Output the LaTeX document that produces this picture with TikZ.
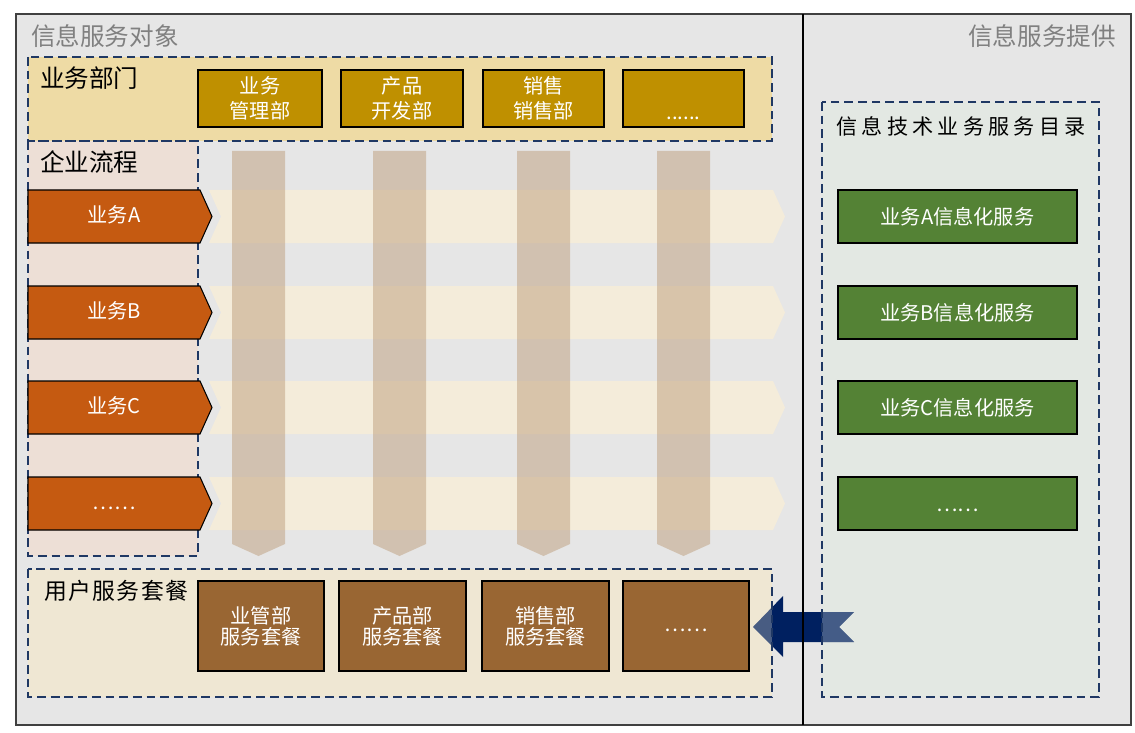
\documentclass[tikz,border=0pt]{standalone}
\usepackage{fontspec}
\setmainfont{Noto Sans CJK SC}
\usetikzlibrary{positioning}
\definecolor{PanelGray}{RGB}{230,230,230}
\definecolor{FrameGray}{RGB}{64,64,64}
\definecolor{TitleGray}{RGB}{128,128,128}
\definecolor{DashNavy}{RGB}{31,56,100}
\definecolor{DeptFill}{RGB}{238,219,165}
\definecolor{DeptGold}{RGB}{191,144,0}
\definecolor{ProcFill}{RGB}{237,223,214}
\definecolor{FlowOrange}{RGB}{197,90,17}
\definecolor{LaneCream}{RGB}{244,236,218}
\definecolor{BandTan}{RGB}{190,158,124}
\definecolor{PkgFill}{RGB}{239,231,211}
\definecolor{PkgBrown}{RGB}{153,102,51}
\definecolor{CatFill}{RGB}{227,232,227}
\definecolor{SvcGreen}{RGB}{84,130,53}
\definecolor{ArrowNavy}{RGB}{0,32,96}

\begin{document}
\begin{tikzpicture}[x=0.02cm, y=-0.02cm,
    region/.style={draw=DashNavy, line width=0.6pt, dash pattern=on 5pt off 2.8pt},
    boxsize/.style 2 args={minimum width=#1*0.02cm, minimum height=#2*0.02cm, inner sep=0pt},
    boxtext/.style={text=white, align=center, font=\fontsize{11.5}{14}\selectfont},
    deptbox/.style={draw=black, line width=0.6pt, fill=DeptGold, boxtext},
    pkgbox/.style={draw=black, line width=0.6pt, fill=PkgBrown, boxtext, font=\fontsize{11.5}{12}\selectfont},
    svcbox/.style={draw=black, line width=0.6pt, fill=SvcGreen, boxtext},
    heading/.style={anchor=west, font=\fontsize{14}{16}\selectfont}]
    \useasboundingbox (0,0) rectangle (1135,733);
    \fill[white] (0,0) rectangle (1135,733);
    \fill[PanelGray] (16,14) rectangle (1131,725);

    % Panel titles
    \node[heading, text=TitleGray] (objTitle) at (25,36) {信息服务对象};
    \node[heading, anchor=east, text=TitleGray] (provTitle) at (1122,36) {信息服务提供};

    % Region fills
    \fill[ProcFill] (28,141) rectangle (198,556);
    \fill[DeptFill] (28,57) rectangle (772,141);
    \fill[PkgFill] (28,569) rectangle (772,697);
    \fill[CatFill] (822,102) rectangle (1099,697);

    % Feed arrow (under the tinted regions)
    \fill[ArrowNavy] (753,627) -- (783,596) -- (783,612) -- (854,612) -- (839,627)
        -- (854,642) -- (783,642) -- (783,657) -- cycle;
    \begin{scope}
      \clip (753,627) -- (783,596) -- (783,612) -- (854,612) -- (839,627)
        -- (854,642) -- (783,642) -- (783,657) -- cycle;
      \fill[PkgFill, opacity=0.3] (28,569) rectangle (772,697);
      \fill[CatFill, opacity=0.3] (822,102) rectangle (1099,697);
    \end{scope}

    % Region borders
    \draw[region] (28,141) rectangle (198,556);
    \draw[region] (28,57) rectangle (772,141);
    \draw[region] (28,569) rectangle (772,697);
    \draw[region] (822,102) rectangle (1099,697);

    % Departments
    \node[heading] (deptTitle) at (34,78) {业务部门};
    \node[deptbox, boxsize={124}{57}] (deptMgmt) at (260,98.5) {业务\\管理部};
    \node[deptbox, boxsize={122}{57}] (deptProd) at (402,98.5) {产品\\开发部};
    \node[deptbox, boxsize={121}{57}] (deptSale) at (543.5,98.5) {销售\\销售部};
    \node[deptbox, boxsize={121}{57}] (deptMore) at (683.5,98.5) {};
    \node[boxtext] (deptDots) at (683.5,118) {......};

    % Process lanes
    \node[heading] (flowTitle) at (34,162) {企业流程};
    \foreach \y/\lbl/\dy/\nm in {190/业务A/0/flowA, 286/业务B/0/flowB, 381/业务C/0/flowC, 477/……/7/flowD} {
      \fill[LaneCream] (209,\y) -- (773,\y) -- (785,\y+26.5) -- (773,\y+53)
          -- (209,\y+53) -- (221,\y+26.5) -- cycle;
      \draw[fill=FlowOrange, line width=0.6pt] (28,\y) -- (200,\y) -- (212,\y+26.5)
          -- (200,\y+53) -- (28,\y+53) -- cycle;
      \node[boxtext] (\nm) at (114,\y+24.5+\dy) {\lbl};
    }

    % Department columns
    \foreach \x in {232,373,517,657}
      \fill[BandTan, opacity=0.5] (\x,151) -- (\x+53,151) -- (\x+53,544)
          -- (\x+26.5,556) -- (\x,544) -- cycle;

    % Service packages
    \node[heading, font=\fontsize{13}{15}\selectfont\addfontfeature{LetterSpace=6}]
        (pkgTitle) at (38,591) {用户服务套餐};
    \node[pkgbox, boxsize={126}{90}] (pkgMgmt) at (261,626) {业管部\\服务套餐};
    \node[pkgbox, boxsize={127}{90}] (pkgProd) at (402.5,626) {产品部\\服务套餐};
    \node[pkgbox, boxsize={127}{90}] (pkgSale) at (545.5,626) {销售部\\服务套餐};
    \node[pkgbox, boxsize={126}{90}] (pkgMore) at (686,626) {};
    \node[boxtext] (pkgDots) at (686,630) {……};

    % Service catalogue
    \node[font=\fontsize{12}{14}\selectfont\addfontfeature{LetterSpace=20}]
        (catTitle) at (961,126) {信息技术业务服务目录};
    \foreach \y/\lbl/\nm in {216.5/业务A信息化服务/svcA, 312.5/业务B信息化服务/svcB,
        407.5/业务C信息化服务/svcC, 503.5/{}/svcD}
      \node[svcbox, boxsize={239}{53}] (\nm) at (957.5,\y) {\lbl};
    \node[boxtext] (svcDots) at (957.5,510) {……};

    % Frame and divider
    \draw[FrameGray, line width=1.1pt] (16,14) rectangle (1131,725);
    \draw[black, line width=1pt] (803,14) -- (803,725);
\end{tikzpicture}
\end{document}
